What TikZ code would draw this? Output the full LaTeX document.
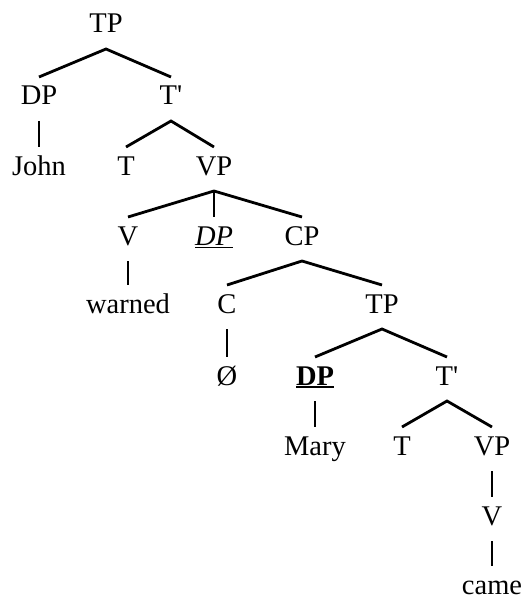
\documentclass[tikz,border=0pt]{standalone}
\usepackage{fontspec}
\setmainfont{Liberation Serif}
\newcommand{\ulbox}[2]{\setbox0\hbox{#2}\rlap{\rule[-3.2pt]{\wd0}{#1}}\box0}

\begin{document}
\begin{tikzpicture}[x=1pt,y=-1pt,
	cat/.style={inner xsep=0,inner ysep=9pt,outer sep=0,anchor=base,text height=19pt,text depth=7pt,font=\fontsize{28.5}{30}\selectfont},
	branch/.style={line width=2.8pt}]
	\useasboundingbox (0,0) rectangle (523,599);
	\node[cat] (1) at (106,33) {TP};
	\node[cat] (2) at (39,105) {DP};
	\node[cat] (3) at (171,105) {T\textquotesingle};
	\node[cat] (4) at (39,175) {John};
	\node[cat] (5) at (126,175) {T};
	\node[cat] (6) at (214,175) {VP};
	\node[cat] (7) at (128,245) {V};
	\node[cat] (8) at (214,245) {\ulbox{1.4pt}{\itshape DP}};
	\node[cat] (9) at (302,245) {CP};
	\node[cat] (10) at (128,313) {warned};
	\node[cat] (11) at (227,313) {C};
	\node[cat] (12) at (382,313) {TP};
	\node[cat] (13) at (227,385) {Ø};
	\node[cat] (14) at (315,385) {\ulbox{2.2pt}{\bfseries DP}};
	\node[cat] (15) at (447,385) {T\textquotesingle};
	\node[cat] (16) at (315,455) {Mary};
	\node[cat] (17) at (402,455) {T};
	\node[cat] (18) at (492,455) {VP};
	\node[cat] (19) at (492,525) {V};
	\node[cat] (20) at (492,594) {came};
	\draw[branch] (2.north) -- (1.south) -- (3.north);
	\draw[branch] (2.south) -- (4.north);
	\draw[branch] (5.north) -- (3.south) -- (6.north);
	\draw[branch] (7.north) -- (6.south) -- (9.north);
	\draw[branch] (6.south) -- (8.north);
	\draw[branch] (7.south) -- (10.north);
	\draw[branch] (11.north) -- (9.south) -- (12.north);
	\draw[branch] (11.south) -- (13.north);
	\draw[branch] (14.north) -- (12.south) -- (15.north);
	\draw[branch] (14.south) -- (16.north);
	\draw[branch] (17.north) -- (15.south) -- (18.north);
	\draw[branch] (18.south) -- (19.north) (19.south) -- (20.north);
\end{tikzpicture}
\end{document}
